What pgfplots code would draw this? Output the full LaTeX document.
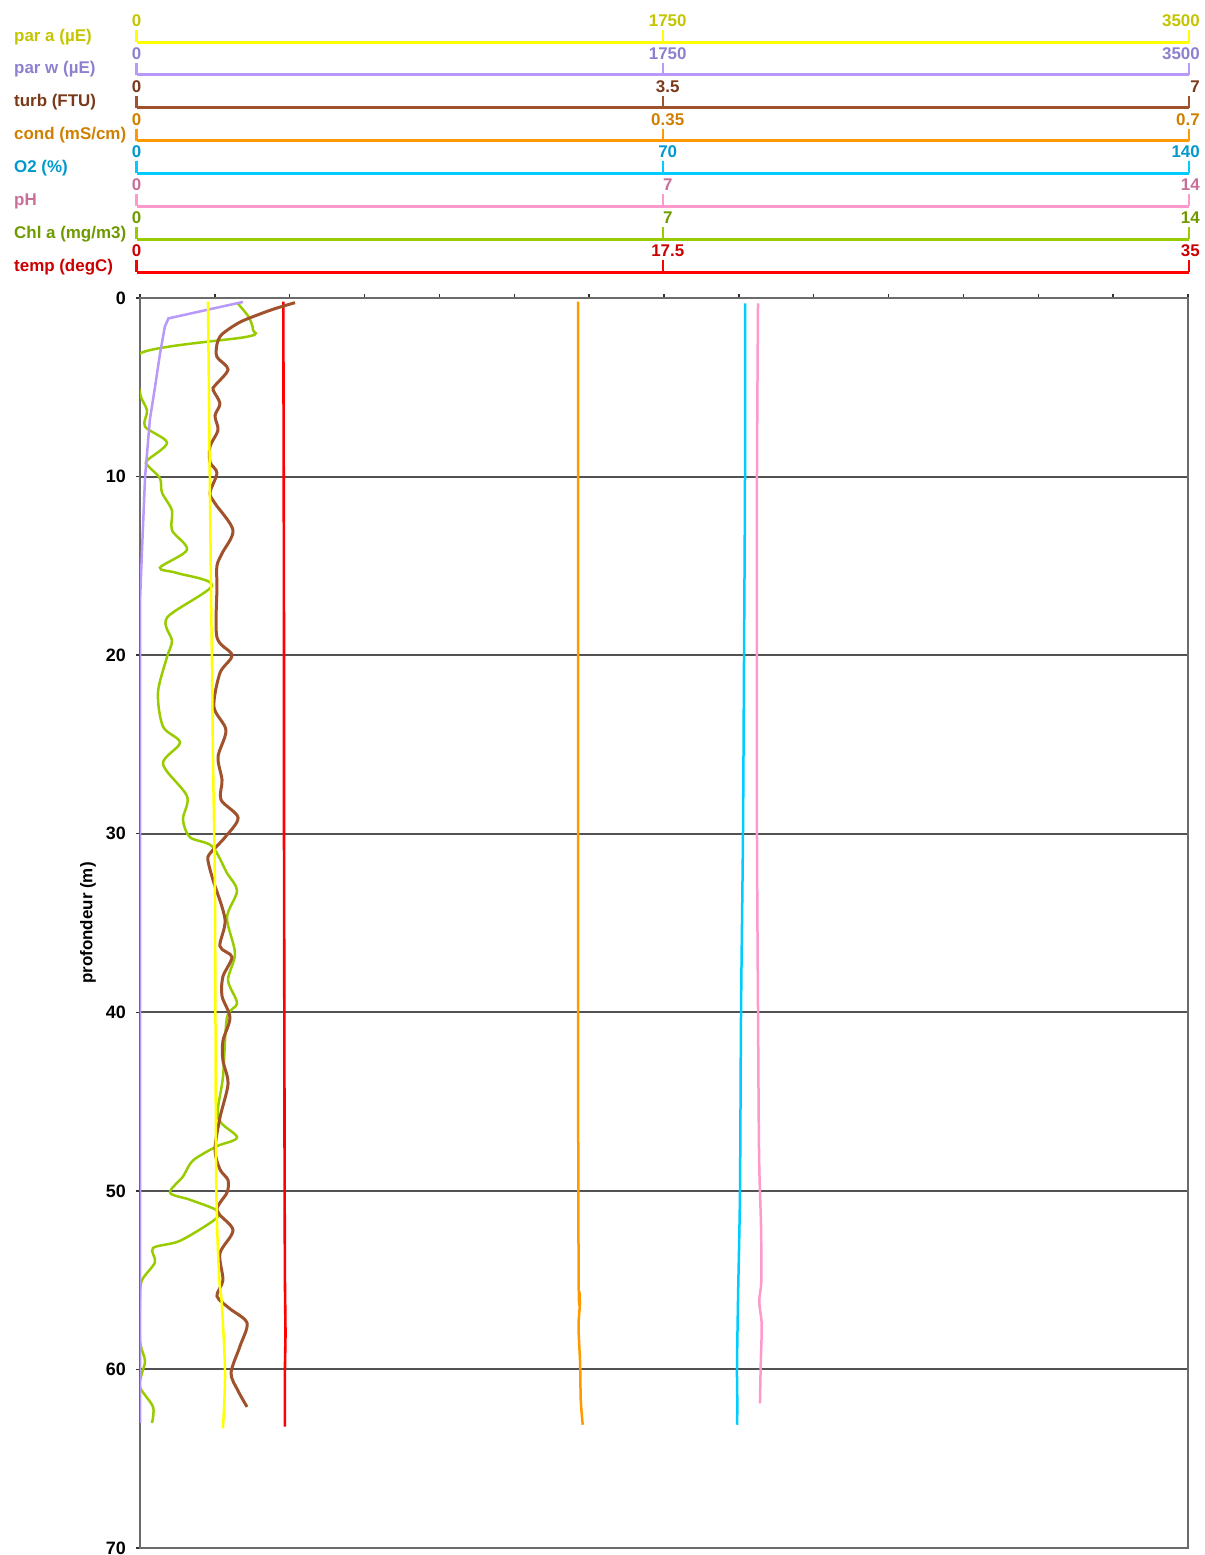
\documentclass[border=0pt]{standalone}
\usepackage{pgfplots}
\pgfplotsset{compat=1.18}
\usepackage{fontspec}
\setmainfont{Liberation Sans}
\definecolor{lparA}{HTML}{FFFF00}\definecolor{tparA}{HTML}{C4C400}
\definecolor{lparW}{HTML}{B898F8}\definecolor{tparW}{HTML}{8E80D0}
\definecolor{lturb}{HTML}{A0522D}\definecolor{tturb}{HTML}{7A3A1A}
\definecolor{lcond}{HTML}{FF9900}\definecolor{tcond}{HTML}{D08000}
\definecolor{lotwo}{HTML}{00CCFF}\definecolor{totwo}{HTML}{0099CC}
\definecolor{lph}{HTML}{FF99CC}\definecolor{tph}{HTML}{C86E98}
\definecolor{lchl}{HTML}{99CC00}\definecolor{tchl}{HTML}{6E9A00}
\definecolor{ltemp}{HTML}{FF0000}\definecolor{ttemp}{HTML}{CC0000}
\newcommand{\lf}{\bfseries\fontsize{17}{20}\selectfont}
\newcommand{\tf}{\bfseries\fontsize{18}{20}\selectfont}
\pgfplotsset{
  dataaxis/.style={width=1048bp,height=1250bp,scale only axis,at={(140bp,-298bp)},anchor=north west,
    ymin=0,ymax=70,y dir=reverse,hide axis,clip=true},
  scaleaxis/.style={width=1052.5bp,height=12bp,scale only axis,anchor=south west,hide axis,
    ymin=0,ymax=1,clip=false},
}
\newcommand{\scalebar}[8]{%
\begin{axis}[scaleaxis, at={(136.5bp,-#1bp)}, xmin=0, xmax=#2]
\addplot[#6, line width=3bp] coordinates {(0,0) (#2,0)};
\addplot[#6, line width=2.2bp, ycomb] coordinates {(0,1) (#3,1) (#2,1)};
\node[anchor=base, text=#7, font=\lf, inner sep=0pt, yshift=3.5bp] at (axis cs:0,1) {0};
\node[anchor=base, text=#7, font=\lf, inner sep=0pt, yshift=3.5bp, xshift=5bp] at (axis cs:#3,1) {#4};
\node[anchor=base east, text=#7, font=\lf, inner sep=0pt, yshift=3.5bp, xshift=11bp] at (axis cs:#2,1) {#5};
\end{axis}
\node[anchor=base west, text=#7, font=\lf, inner sep=0pt] at ({14bp},{1bp-#1bp}) {#8};
}
\begin{document}
\begin{tikzpicture}
\useasboundingbox (0,0) rectangle (1205bp,-1555bp);
% scale bars
\scalebar{42}{3500}{1750}{1750}{3500}{lparA}{tparA}{par a (µE)}
\scalebar{74.9}{3500}{1750}{1750}{3500}{lparW}{tparW}{par w (µE)}
\scalebar{107.7}{7}{3.5}{3.5}{7}{lturb}{tturb}{turb (FTU)}
\scalebar{140.6}{0.7}{0.35}{0.35}{0.7}{lcond}{tcond}{cond (mS/cm)}
\scalebar{173.4}{140}{70}{70}{140}{lotwo}{totwo}{O2 (\%)}
\scalebar{206.3}{14}{7}{7}{14}{lph}{tph}{pH}
\scalebar{239.2}{14}{7}{7}{14}{lchl}{tchl}{Chl a (mg/m3)}
\scalebar{272}{35}{17.5}{17.5}{35}{ltemp}{ttemp}{temp (degC)}
% main frame
\begin{axis}[width=1048bp,height=1250bp,scale only axis,at={(140bp,-298bp)},anchor=north west,
  xmin=0,xmax=14,ymin=0,ymax=70,y dir=reverse,
  xtick={0,1,...,14}, xticklabels={}, xtick pos=right,
  ytick={0,10,...,70}, ytick pos=left,
  tick align=outside, major tick length=4bp,
  tick style={draw=black!80, line width=1.5bp},
  ymajorgrids, grid style={draw=black!68, line width=2bp},
  axis line style={draw=black!58, line width=2bp},
  /pgf/number format/assume math mode=true,
  yticklabel style={font=\tf, inner sep=0pt, xshift=-10bp},
  ylabel={profondeur (m)},
  ylabel style={font=\lf, at={(axis description cs:-0.042,0.5)}, anchor=south, inner sep=0pt},
]
\end{axis}
% temp
\begin{axis}[dataaxis, xmin=0, xmax=35]
\addplot[ltemp, line width=2.6bp] coordinates {(4.786,0.2)(4.80,10)(4.81,20)(4.81,30)(4.82,40)(4.83,50)(4.84,55)(4.86,58)(4.84,60)(4.84,63.2)};
\end{axis}
% cond
\begin{axis}[dataaxis, xmin=0, xmax=0.7]
\addplot[lcond, line width=2.5bp, smooth] coordinates {(0.2926,0.2)(0.2926,20)(0.2926,40)(0.2930,55)(0.2938,56.3)(0.2929,57.6)(0.2940,59.7)(0.2944,61.7)(0.2957,63.1)};
\end{axis}
% O2
\begin{axis}[dataaxis, xmin=0, xmax=140]
\addplot[lotwo, line width=2.5bp, smooth] coordinates {(80.82,0.3)(80.82,10)(80.69,20)(80.55,30)(80.29,40)(80.15,50)(79.89,56)(79.75,60)(79.80,62)(79.75,63.1)};
\end{axis}
% pH
\begin{axis}[dataaxis, xmin=0, xmax=14]
\addplot[lph, line width=2.5bp, smooth] coordinates {(8.256,0.3)(8.242,10)(8.242,20)(8.242,30)(8.256,40)(8.270,48)(8.296,52)(8.300,55)(8.272,56.2)(8.305,57.5)(8.292,59.7)(8.282,61.9)};
\end{axis}
% Chl a
\begin{axis}[dataaxis, xmin=0, xmax=14]
\addplot[lchl, line width=2.5bp, smooth, tension=0.5] coordinates {(1.296,0.26)(1.45,1.05)(1.51,1.8)(1.43,2.17)(0,3.1)(0,5.3)(0.094,6.3)(0.067,7.2)(0.361,8.1)(0.094,9.1)(0.107,9.4)(0.267,10.1)(0.294,10.9)(0.427,11.9)(0.427,13.0)(0.628,14.1)(0.267,15.1)(0.494,15.4)(0.962,16.1)(0.361,17.9)(0.427,19.2)(0.361,20.1)(0.240,22.1)(0.307,24.0)(0.534,24.9)(0.307,26.1)(0.628,27.9)(0.574,29.2)(0.668,30.2)(0.962,30.7)(1.162,32.2)(1.296,33.2)(1.162,34.7)(1.269,36.7)(1.176,38.2)(1.296,39.5)(1.162,40.3)(1.109,43.6)(1.042,45.9)(1.296,47.0)(1.029,47.5)(0.708,48.3)(0.574,49.2)(0.401,50.1)(0.668,50.5)(1.029,51.1)(1.002,51.6)(0.534,52.8)(0.174,53.2)(0.200,54.0)(0.027,55.0)(0,56.0)(0,58.4)(0.067,59.5)(0.027,60.2)(0,61.0)(0.174,62.1)(0.160,63.0)};
\end{axis}
% turb
\begin{axis}[dataaxis, xmin=0, xmax=7]
\addplot[lturb, line width=3bp, smooth, tension=0.5] coordinates {(1.035,0.26)(0.90,0.6)(0.80,0.9)(0.68,1.3)(0.60,1.7)(0.54,2.1)(0.514,2.6)(0.514,3.3)(0.588,4.0)(0.501,4.9)(0.488,5.15)(0.534,5.9)(0.501,6.6)(0.521,7.4)(0.468,8.3)(0.468,9.2)(0.514,9.8)(0.468,10.9)(0.501,11.5)(0.621,13.0)(0.548,14.3)(0.514,15.0)(0.514,16.2)(0.514,19.0)(0.614,20.0)(0.534,21.0)(0.494,22.9)(0.574,24.2)(0.521,25.7)(0.548,27.0)(0.541,28.1)(0.655,29.1)(0.568,30.2)(0.468,31.1)(0.454,31.5)(0.488,32.6)(0.568,34.8)(0.534,36.3)(0.614,36.9)(0.554,38.0)(0.548,39.1)(0.601,40.3)(0.554,41.6)(0.554,42.7)(0.588,44.0)(0.534,45.9)(0.501,47.7)(0.534,48.8)(0.588,49.4)(0.581,50.1)(0.514,51.1)(0.621,52.2)(0.534,53.5)(0.554,55.0)(0.514,55.9)(0.60,56.6)(0.715,57.4)(0.668,58.7)(0.608,60.2)(0.655,61.2)(0.715,62.1)};
\end{axis}
% par w
\begin{axis}[dataaxis, xmin=0, xmax=3500]
\addplot[lparW, line width=2.5bp] coordinates {(344,0.22)(95,1.14)(83,1.6)(67,3.1)(50,5.0)(33,6.8)(17,10.0)(7,14)(0,17)(0,63)};
\end{axis}
% par a
\begin{axis}[dataaxis, xmin=0, xmax=3500]
\addplot[lparA, line width=2.5bp, smooth] coordinates {(227,0.2)(230,5)(233,10)(237,16)(240,20)(244,26)(250,32.6)(252,40)(254,48.8)(258,52.2)(265,55)(273,56.3)(284,60.2)(277,63.3)};
\end{axis}
\end{tikzpicture}
\end{document}
